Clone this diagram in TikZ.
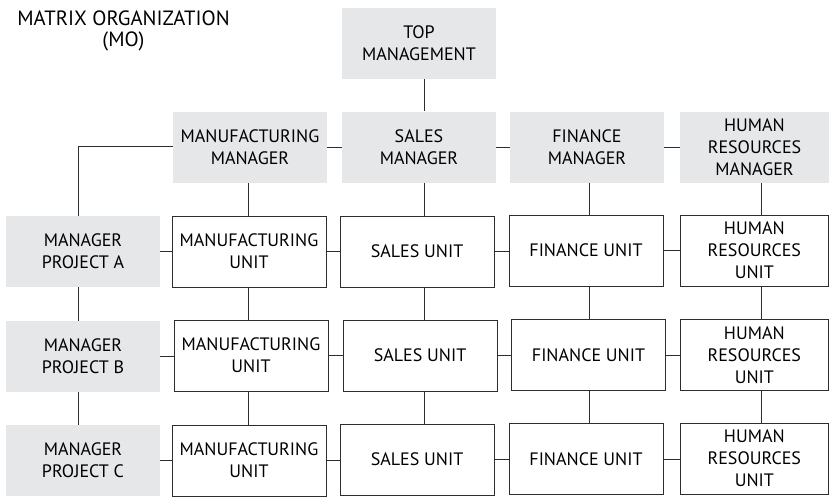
\documentclass[tikz,border=0pt]{standalone}
\usepackage{fontspec}
\setmainfont{PT Sans}
\definecolor{boxgray}{RGB}{230,231,232}
\definecolor{linecol}{RGB}{45,45,45}
\begin{document}
\begin{tikzpicture}[x=0.75pt,y=-0.75pt,
  every node/.style={font=\fontsize{13.5}{16.5}\selectfont, align=center, inner sep=0pt, text=black},
  mgr/.style={fill=boxgray, minimum width=115.5pt, minimum height=53.25pt},
  unitbox/.style={draw=linecol, line width=0.7pt, fill=white, minimum width=115.5pt, minimum height=53.25pt},
  hrunit/.style={unitbox, minimum width=110.6pt},
  conn/.style={draw=linecol, line width=0.7pt}]
\useasboundingbox (0,0) rectangle (829,497);
\node[font=\fontsize{15.5}{16}\selectfont] (title) at (123.5,31) {MATRIX ORGANIZATION\\(MO)};
% managers
\node[mgr] (top) at (419,43.5) {TOP\\MANAGEMENT};
\node[mgr] (mfgM) at (250,147.5) {MANUFACTURING\\MANAGER};
\node[mgr] (salesM) at (419,147) {SALES\\MANAGER};
\node[mgr] (finM) at (587,147) {FINANCE\\MANAGER};
\node[mgr, minimum width=111.75pt] (hrM) at (754.5,147) {HUMAN\\RESOURCES\\MANAGER};
% project managers
\node[mgr] (pA) at (83,251.5) {MANAGER\\PROJECT A};
\node[mgr] (pB) at (83,356.5) {MANAGER\\PROJECT B};
\node[mgr] (pC) at (83,460.5) {MANAGER\\PROJECT C};
% row A
\node[unitbox] (mfgA) at (249,251.5) {MANUFACTURING\\UNIT};
\node[unitbox] (salesA) at (417,251.5) {SALES UNIT};
\node[unitbox] (finA) at (586,250.5) {FINANCE UNIT};
\node[hrunit] (hrA) at (754.3,250.5) {HUMAN\\RESOURCES\\UNIT};
% row B
\node[unitbox] (mfgB) at (251,355.5) {MANUFACTURING\\UNIT};
\node[unitbox] (salesB) at (420,355.5) {SALES UNIT};
\node[unitbox] (finB) at (588.5,355) {FINANCE UNIT};
\node[hrunit] (hrB) at (754.3,355) {HUMAN\\RESOURCES\\UNIT};
% row C
\node[unitbox] (mfgC) at (249,460.5) {MANUFACTURING\\UNIT};
\node[unitbox] (salesC) at (417,459.5) {SALES UNIT};
\node[unitbox] (finC) at (586,459) {FINANCE UNIT};
\node[hrunit] (hrC) at (754.3,458.5) {HUMAN\\RESOURCES\\UNIT};
% column line positions
\coordinate (colP) at (78,146);
\coordinate (colM) at (248,0);
\coordinate (colS) at (424,0);
\coordinate (colF) at (589,0);
\coordinate (colH) at (761,0);
% top connectors
\draw[conn] (colS |- top.south) -- (colS |- salesM.north);
\draw[conn] (mfgM.east) -- (mfgM.east -| salesM.west);
\draw[conn] (salesM.east) -- (salesM.east -| finM.west);
\draw[conn] (finM.east) -- (finM.east -| hrM.west);
\draw[conn] (colP -| mfgM.west) -- (colP) -- (colP |- pA.north);
\draw[conn] (colP |- pA.south) -- (colP |- pB.north);
\draw[conn] (colP |- pB.south) -- (colP |- pC.north);
% vertical connectors
\foreach \c/\m/\a/\b/\cc in {colM/mfgM/mfgA/mfgB/mfgC, colS/salesM/salesA/salesB/salesC, colF/finM/finA/finB/finC, colH/hrM/hrA/hrB/hrC}{
  \draw[conn] (\c |- \m.south) -- (\c |- \a.north);
  \draw[conn] (\c |- \a.south) -- (\c |- \b.north);
  \draw[conn] (\c |- \b.south) -- (\c |- \cc.north);
}
% horizontal connectors
\foreach \p/\m/\s/\f/\h in {pA/mfgA/salesA/finA/hrA, pB/mfgB/salesB/finB/hrB, pC/mfgC/salesC/finC/hrC}{
  \draw[conn] (\p.east) -- (\p.east -| \m.west);
  \draw[conn] (\m.east) -- (\m.east -| \s.west);
  \draw[conn] (\s.east) -- (\s.east -| \f.west);
  \draw[conn] (\f.east) -- (\f.east -| \h.west);
}
\end{tikzpicture}
\end{document}
